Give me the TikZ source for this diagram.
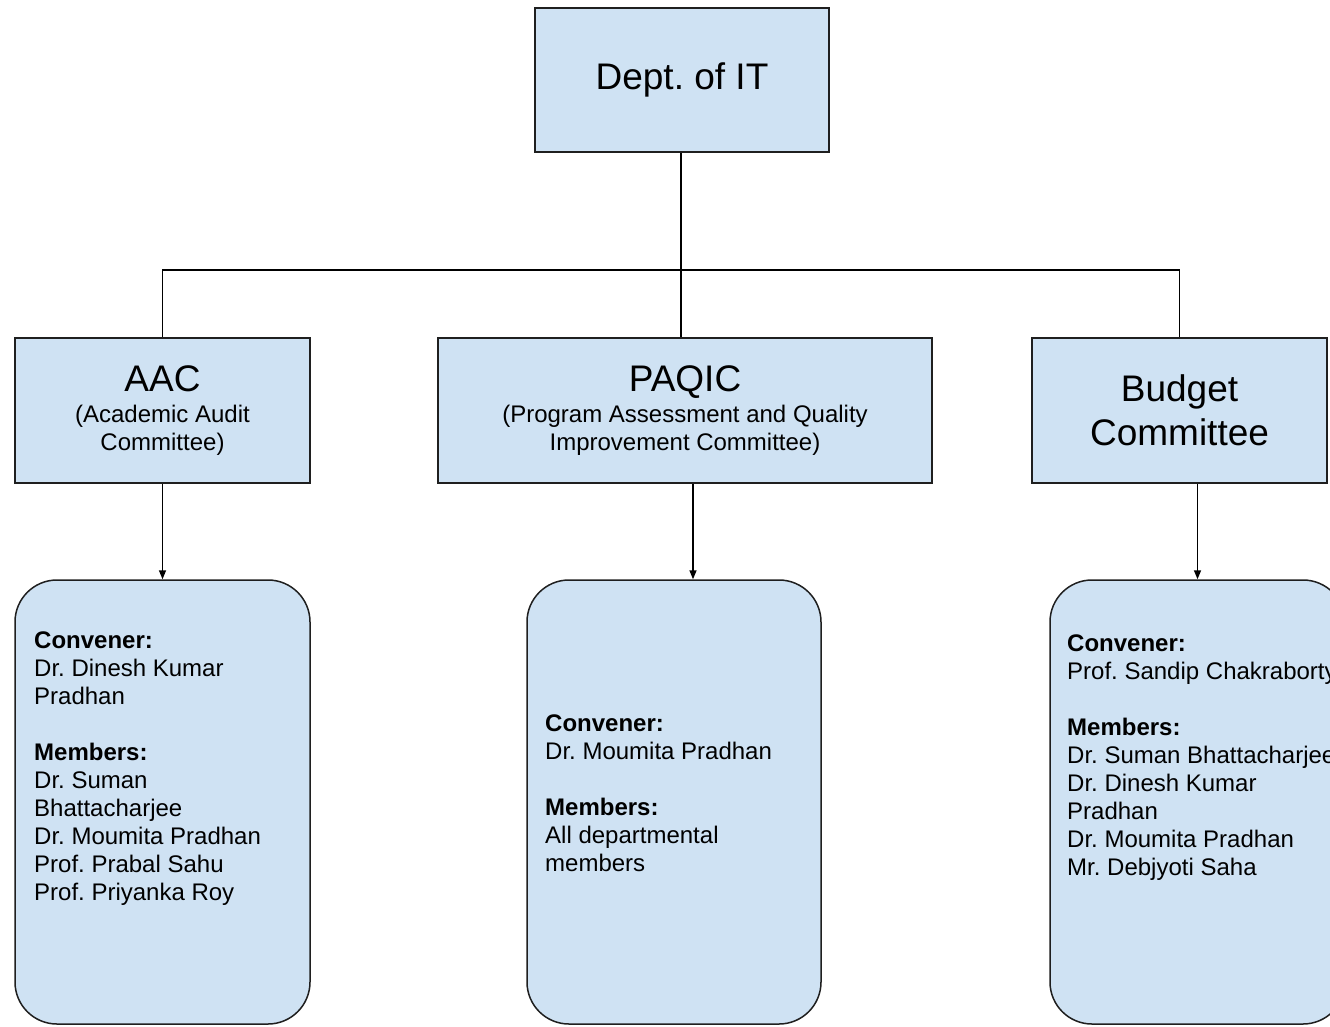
\documentclass[tikz,border=0pt]{standalone}
\usepackage{fontspec}
\setmainfont{Liberation Sans}
\usetikzlibrary{arrows.meta}
\definecolor{boxfill}{HTML}{CFE2F3}
\definecolor{boxline}{HTML}{1F1F1F}
\frenchspacing
\begin{document}
\begin{tikzpicture}[x=1pt,y=-1pt,
  box/.style={draw=boxline,fill=boxfill,line width=1.5pt,rectangle,inner sep=0pt,align=center,
    font=\frenchspacing\fontsize{24}{28}\selectfont},
  rbox/.style={box,rounded corners=42pt},
  conn/.style={draw=black,line width=1.5pt},
  arr/.style={conn,-{Triangle[length=9pt,width=7pt]}},
  det/.style={anchor=north west,inner sep=0pt,align=left,font=\frenchspacing\fontsize{24}{28}\selectfont},
  big/.style={font=\frenchspacing\fontsize{37}{44}\selectfont}]
\useasboundingbox (0,0) rectangle (1330,1026);
\fill[white] (0,0) rectangle (1330,1026);
\clip (0,0) rectangle (1330,1026);

% top box
\node[box,big,minimum width=294pt,minimum height=144pt] (dept) at (682,80) {Dept. of IT};

% committee boxes
\node[box,minimum width=295pt,minimum height=145pt] (aac) at (162.5,410.5)
  {{\fontsize{37}{44}\selectfont AAC}\\[3pt](Academic Audit\\Committee)};
\node[box,minimum width=494pt,minimum height=145pt] (paq) at (685,410.5)
  {{\fontsize{37}{44}\selectfont PAQIC}\\[3pt](Program Assessment and Quality\\Improvement Committee)};
\node[box,big,minimum width=295pt,minimum height=145pt] (bud) at (1179.5,410.5)
  {Budget\\Committee};

% detail boxes
\node[rbox,minimum width=295pt,minimum height=444pt] (aacd) at (162.5,802) {};
\node[rbox,minimum width=294pt,minimum height=444pt] (paqd) at (674,802) {};
\node[rbox,minimum width=295pt,minimum height=444pt] (budd) at (1197.5,802) {};

% detail texts
\node[det] (aact) at (34,632) {\textbf{Convener:}\\Dr. Dinesh Kumar\\Pradhan\\[28pt]%
  \textbf{Members:}\\Dr. Suman\\Bhattacharjee\\Dr. Moumita Pradhan\\Prof. Prabal Sahu\\Prof. Priyanka Roy};
\node[det] (paqt) at (545,715) {\textbf{Convener:}\\Dr. Moumita Pradhan\\[28pt]%
  \textbf{Members:}\\All departmental\\members};
\node[det] (budt) at (1067,635) {\textbf{Convener:}\\Prof. Sandip Chakraborty\\[28pt]%
  \textbf{Members:}\\Dr. Suman Bhattacharjee\\Dr. Dinesh Kumar\\Pradhan\\Dr. Moumita Pradhan\\Mr. Debjyoti Saha};

% connectors
\coordinate (j) at (681,270);
\draw[conn] (dept.south -| j) -- (j);
\draw[conn] (aac.north) |- (j) -| (bud.north);
\draw[conn] (j) -- (paq.north -| j);
\draw[arr] (aac.south) -- (aacd.north);
\draw[arr] ([xshift=8pt]paq.south) -- ([xshift=8pt]paq.south |- paqd.north);
\draw[arr] (budd.north |- bud.south) -- (budd.north);
\end{tikzpicture}
\end{document}
